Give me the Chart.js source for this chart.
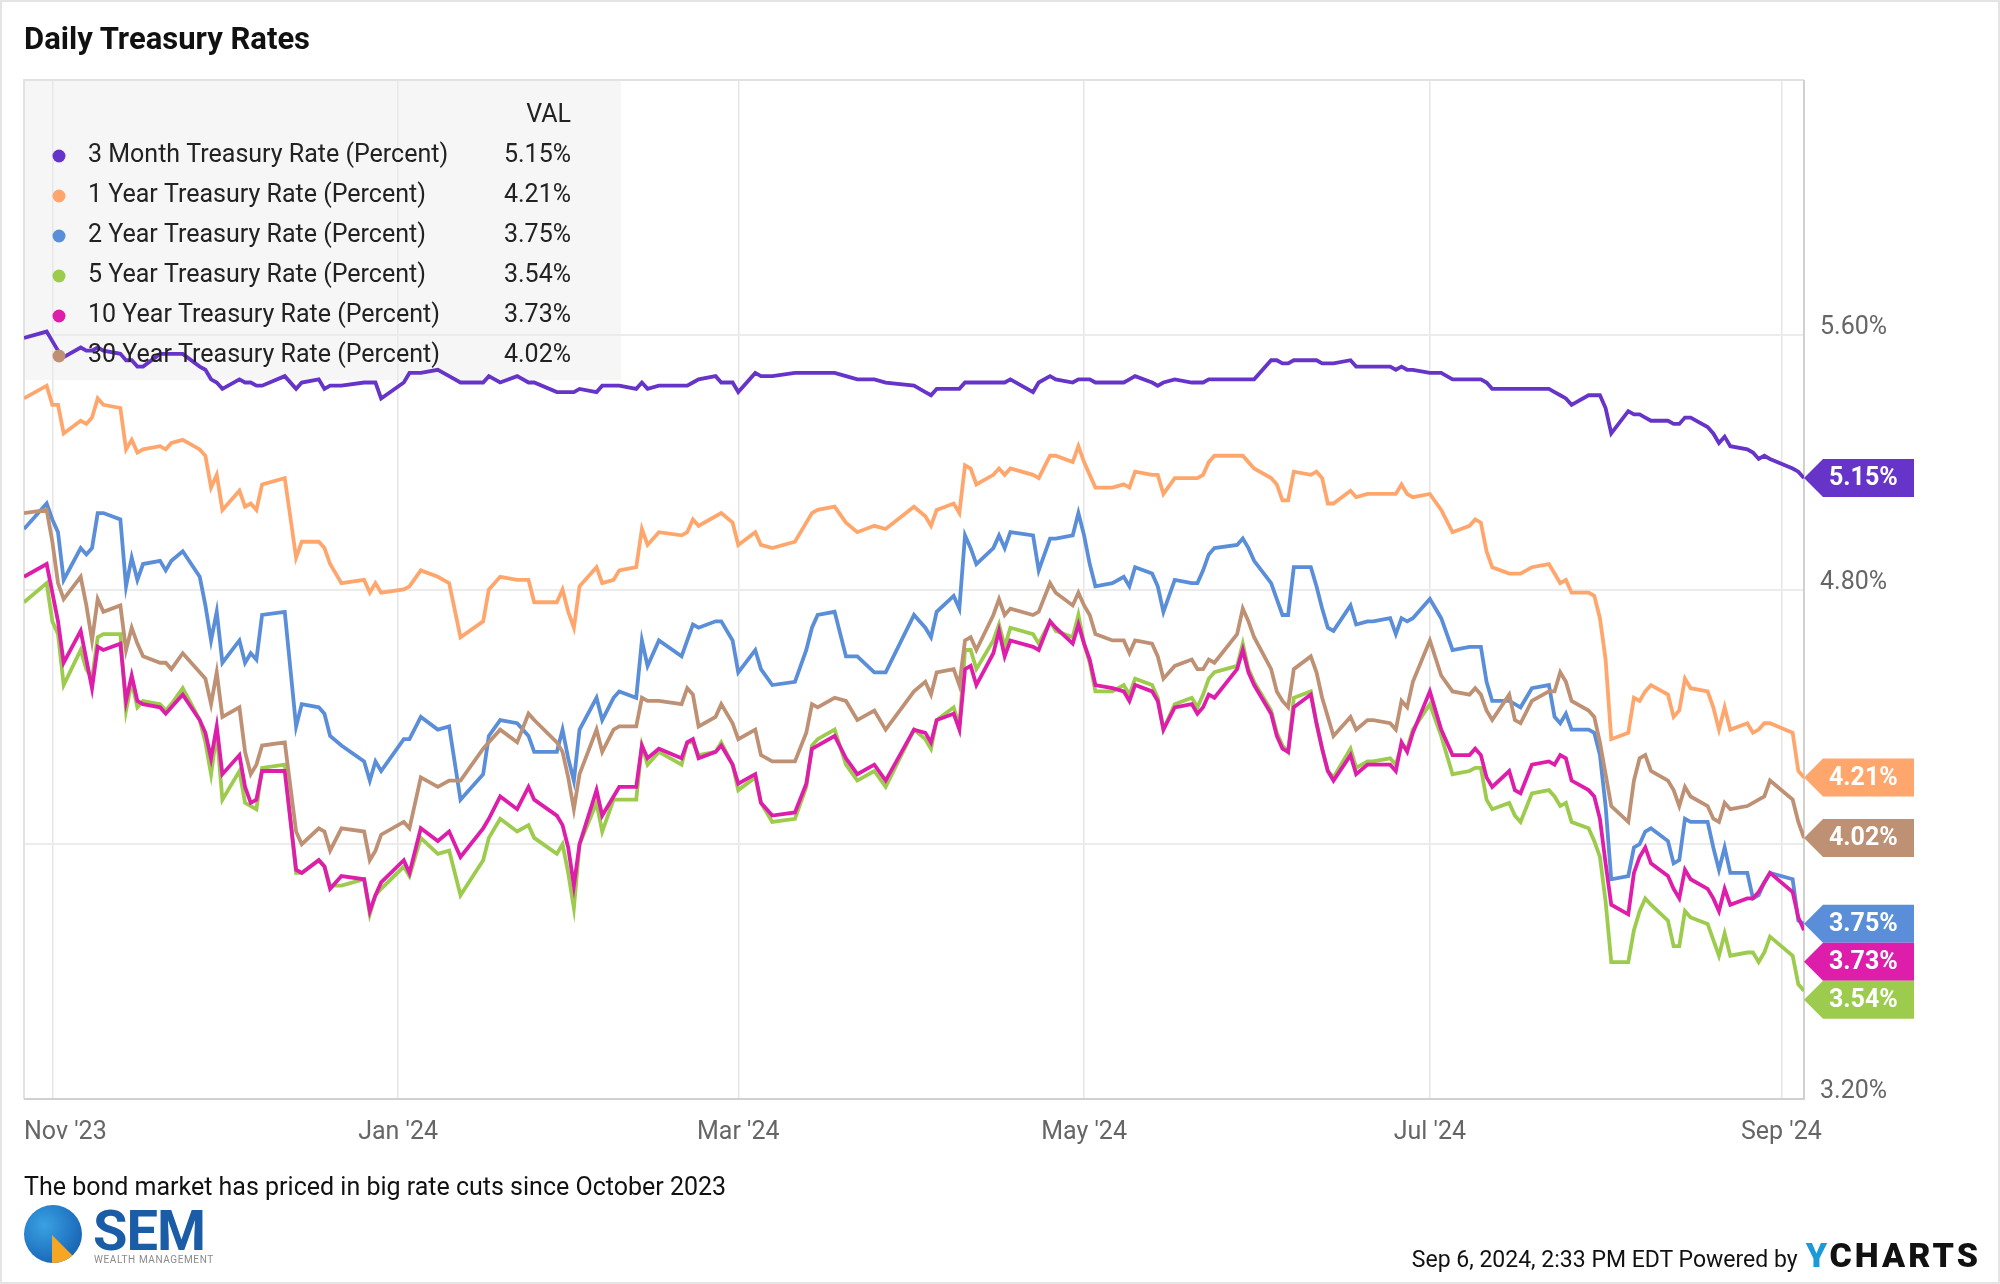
<!DOCTYPE html>
<html>
<head>
<meta charset="utf-8">
<title>Daily Treasury Rates</title>
<script src="https://cdn.jsdelivr.net/npm/chart.js@4.4.1/dist/chart.umd.min.js"></script>
<style>
  html, body { margin: 0; padding: 0; background: #fff; }
  body { width: 2000px; height: 1284px; position: relative; overflow: hidden; font-family: Roboto, 'Noto Sans', sans-serif; color: #111; }
  #frame { position: absolute; left: 0; top: 0; width: 1996px; height: 1280px; border: 2px solid #e4e4e4; pointer-events: none; }
  #chart { position: absolute; left: 0; top: 0; }
  #title { position: absolute; left: 24px; top: 23px; font-size: 31px; line-height: 32px; font-weight: 700; color: #111; }
  #caption { position: absolute; left: 24px; top: 1174px; font-size: 25px; line-height: 25px; color: #111; }
  #stamp { position: absolute; right: 19px; top: 1240px; display: flex; align-items: baseline; font-size: 23px; line-height: 30px; color: #111; }
  #stamp .yc { font-size: 34px; font-weight: 900; letter-spacing: 3px; margin-left: 8px; color: #111; }
  #stamp .yc b { color: #1b9ad8; font-weight: 900; }
  #sem { position: absolute; left: 24px; top: 1203px; width: 200px; height: 66px; }
  #sem .mark { position: absolute; left: 0; top: 2px; width: 58px; height: 58px; border-radius: 50%;
    background: radial-gradient(circle at 35% 35%, #3aa2e3 0%, #1f72c0 60%, #14539a 100%); overflow: hidden; }
  #sem .mark::after { content: ''; position: absolute; left: 28px; top: 30px; width: 30px; height: 30px;
    background: #f5a623; clip-path: polygon(0 0, 100% 100%, 0 100%); }
  #sem .word { position: absolute; left: 69px; top: 0; font-size: 56px; line-height: 56px; font-weight: 700; color: #1a5ca6; letter-spacing: -1px; }
  #sem .sub { position: absolute; left: 70px; top: 52px; font-size: 10px; line-height: 10px; color: #8a8a8a; letter-spacing: 0.6px; }
</style>
</head>
<body>
<canvas id="chart" width="2000" height="1284"></canvas>
<div id="title">Daily Treasury Rates</div>
<div id="caption">The bond market has priced in big rate cuts since October 2023</div>
<div id="sem"><div class="mark"></div><div class="word">SEM</div><div class="sub">WEALTH MANAGEMENT</div></div>
<div id="stamp"><span>Sep 6, 2024, 2:33 PM EDT Powered by</span><span class="yc"><b>Y</b>CHARTS</span></div>
<div id="frame"></div>
<script>
// trading days (not every day, but every visible turn)
const dates = [
  '2023-10-27','2023-10-31','2023-11-01','2023-11-02','2023-11-03','2023-11-06','2023-11-07','2023-11-08','2023-11-09','2023-11-10',
  '2023-11-13','2023-11-14','2023-11-15','2023-11-16','2023-11-17','2023-11-20','2023-11-21','2023-11-22','2023-11-24',
  '2023-11-27','2023-11-28','2023-11-29','2023-11-30','2023-12-01','2023-12-04','2023-12-05','2023-12-06','2023-12-07','2023-12-08',
  '2023-12-12','2023-12-14','2023-12-15','2023-12-18','2023-12-19','2023-12-20','2023-12-22',
  '2023-12-26','2023-12-27','2023-12-28','2023-12-29',
  '2024-01-02','2024-01-03','2024-01-05','2024-01-08','2024-01-10','2024-01-12',
  '2024-01-16','2024-01-17','2024-01-19','2024-01-22','2024-01-24','2024-01-25','2024-01-29','2024-01-30','2024-01-31','2024-02-01',
  '2024-02-02','2024-02-05','2024-02-06','2024-02-08','2024-02-09','2024-02-12','2024-02-13','2024-02-14','2024-02-16',
  '2024-02-20','2024-02-21','2024-02-22','2024-02-23','2024-02-26','2024-02-27','2024-02-29','2024-03-01',
  '2024-03-04','2024-03-05','2024-03-07','2024-03-11','2024-03-13','2024-03-14','2024-03-15','2024-03-18','2024-03-20','2024-03-22',
  '2024-03-25','2024-03-27','2024-04-01','2024-04-03',
  '2024-04-04','2024-04-05','2024-04-08','2024-04-09','2024-04-10','2024-04-11','2024-04-12','2024-04-15','2024-04-16','2024-04-17',
  '2024-04-18','2024-04-22','2024-04-23','2024-04-25','2024-04-26','2024-04-29','2024-04-30','2024-05-01','2024-05-02','2024-05-03',
  '2024-05-06','2024-05-08','2024-05-09','2024-05-10','2024-05-13','2024-05-14','2024-05-15','2024-05-17','2024-05-20','2024-05-21',
  '2024-05-22','2024-05-23','2024-05-24','2024-05-28','2024-05-29','2024-05-30','2024-05-31','2024-06-03','2024-06-04','2024-06-05',
  '2024-06-06','2024-06-07','2024-06-10','2024-06-11','2024-06-12','2024-06-13','2024-06-14','2024-06-17','2024-06-18','2024-06-20',
  '2024-06-21','2024-06-24','2024-06-25','2024-06-26','2024-06-27','2024-06-28','2024-07-01','2024-07-03','2024-07-05','2024-07-08',
  '2024-07-09','2024-07-10','2024-07-11','2024-07-12','2024-07-15','2024-07-16','2024-07-17','2024-07-19','2024-07-22','2024-07-23',
  '2024-07-24','2024-07-25','2024-07-26','2024-07-29','2024-07-30','2024-07-31','2024-08-01','2024-08-02','2024-08-05','2024-08-06',
  '2024-08-07','2024-08-08','2024-08-09','2024-08-12','2024-08-13','2024-08-14','2024-08-15','2024-08-16','2024-08-19','2024-08-20',
  '2024-08-21','2024-08-22','2024-08-23','2024-08-26','2024-08-27','2024-08-28','2024-08-29','2024-08-30','2024-09-03','2024-09-04',
  '2024-09-05'
];

const rate3m = [
  5.59,5.61,5.58,5.55,5.53,5.56,5.55,5.55,5.56,5.55, 5.54,5.52,5.52,5.50,5.50,5.54,5.54,5.54,5.54,
  5.50,5.49,5.46,5.45,5.43,5.46,5.45,5.45,5.44,5.44, 5.47,5.43,5.45,5.46,5.43,5.44,5.44, 5.45,5.45,5.45,5.40,
  5.45,5.48,5.48,5.49,5.47,5.45,
  5.45,5.47,5.45,5.47,5.45,5.45,5.42,5.42,5.42,5.42, 5.43,5.42,5.44,5.44,5.44,5.43,5.45,5.43,5.44,
  5.44,5.44,5.45,5.46,5.47,5.45,5.45,5.42, 5.48,5.47,5.47,5.48,5.48,5.48,5.48,5.48,5.47,5.46, 5.46,5.45,5.44,5.42,
  5.41,5.43,5.43,5.43,5.45,5.45,5.45,5.45,5.45,5.45, 5.46,5.42,5.45,5.47,5.46,5.45,5.46,5.46,5.46,5.45,
  5.45,5.45,5.46,5.47,5.45,5.44,5.45,5.46,5.45,5.45, 5.45,5.46,5.46,5.46,5.46,5.46,5.46,5.52,5.52,5.51,
  5.51,5.52,5.52,5.52,5.51,5.51,5.51,5.52,5.50,5.50,
  5.50,5.50,5.49,5.50,5.49,5.49,5.48,5.48,5.46,5.46, 5.46,5.46,5.45,5.43,5.43,5.43,5.43,5.43,5.43,5.42,
  5.41,5.40,5.38,5.41,5.41,5.41,5.37,5.29,5.36,5.35, 5.35,5.34,5.33,5.33,5.32,5.32,5.34,5.34,5.31,5.29,
  5.26,5.28,5.25,5.24,5.23,5.21,5.22,5.21,5.18,5.17, 5.15
];
const rate1y = [
  5.40,5.44,5.38,5.38,5.29,5.33,5.32,5.34,5.40,5.38, 5.37,5.24,5.27,5.23,5.24,5.25,5.24,5.26,5.27,
  5.24,5.22,5.12,5.16,5.05,5.11,5.06,5.07,5.05,5.13, 5.15,4.90,4.95,4.95,4.93,4.88,4.82, 4.83,4.79,4.82,4.79,
  4.80,4.81,4.86,4.84,4.82,4.65,
  4.70,4.80,4.84,4.83,4.83,4.76,4.76,4.80,4.73,4.68, 4.81,4.87,4.82,4.83,4.86,4.87,4.99,4.94,4.98,
  4.97,4.98,5.02,5.00,5.03,5.04,5.01,4.94, 4.98,4.94,4.93,4.95,5.01,5.04,5.05,5.06,5.01,4.98, 5.00,4.99,5.06,5.03,
  5.00,5.05,5.07,5.04,5.19,5.18,5.13,5.16,5.18,5.16, 5.18,5.16,5.15,5.22,5.22,5.20,5.25,5.20,5.16,5.12,
  5.12,5.13,5.12,5.17,5.16,5.16,5.10,5.15,5.15,5.15, 5.16,5.20,5.22,5.22,5.22,5.20,5.18,5.15,5.13,5.08,
  5.08,5.17,5.16,5.17,5.15,5.07,5.07,5.11,5.09,5.10,
  5.10,5.10,5.10,5.13,5.10,5.09,5.10,5.05,4.98,5.00, 5.02,5.01,4.92,4.87,4.85,4.85,4.85,4.87,4.88,4.85,
  4.82,4.83,4.79,4.79,4.78,4.71,4.58,4.33,4.35,4.46, 4.45,4.48,4.50,4.47,4.40,4.42,4.52,4.49,4.48,4.43,
  4.36,4.43,4.36,4.38,4.35,4.36,4.38,4.38,4.35,4.23, 4.21
];
const rate2y = [
  4.99,5.07,5.02,4.98,4.83,4.93,4.91,4.93,5.04,5.04, 5.02,4.81,4.90,4.83,4.88,4.89,4.86,4.89,4.92,
  4.84,4.75,4.64,4.73,4.57,4.64,4.57,4.60,4.58,4.72, 4.73,4.37,4.44,4.43,4.41,4.34,4.31, 4.26,4.20,4.26,4.23,
  4.33,4.33,4.40,4.36,4.37,4.14,
  4.22,4.34,4.39,4.38,4.34,4.29,4.29,4.36,4.27,4.20, 4.36,4.46,4.39,4.46,4.48,4.46,4.64,4.56,4.64,
  4.59,4.64,4.69,4.68,4.70,4.70,4.64,4.54, 4.61,4.55,4.50,4.51,4.61,4.68,4.72,4.73,4.59,4.59, 4.54,4.54,4.72,4.68,
  4.65,4.73,4.78,4.74,4.97,4.93,4.88,4.93,4.97,4.93, 4.98,4.97,4.86,4.96,4.96,4.97,5.04,4.97,4.88,4.81,
  4.82,4.84,4.81,4.87,4.85,4.81,4.73,4.83,4.82,4.82, 4.86,4.91,4.93,4.94,4.96,4.93,4.89,4.82,4.77,4.72,
  4.72,4.87,4.87,4.81,4.74,4.68,4.67,4.75,4.69,4.70,
  4.70,4.71,4.66,4.71,4.70,4.71,4.77,4.71,4.61,4.62, 4.62,4.62,4.51,4.45,4.45,4.44,4.43,4.49,4.50,4.40,
  4.38,4.41,4.36,4.36,4.35,4.28,4.12,3.89,3.90,3.99, 4.00,4.04,4.05,4.01,3.94,3.95,4.08,4.07,4.07,3.99,
  3.92,3.99,3.91,3.91,3.83,3.84,3.88,3.91,3.89,3.76, 3.75
];
const rate5y = [
  4.76,4.82,4.70,4.66,4.50,4.61,4.55,4.52,4.65,4.66, 4.66,4.42,4.51,4.43,4.45,4.44,4.42,4.44,4.49,
  4.39,4.32,4.22,4.35,4.14,4.23,4.13,4.12,4.11,4.24, 4.25,3.91,3.91,3.95,3.93,3.87,3.87, 3.89,3.78,3.84,3.86,
  3.93,3.90,4.02,3.97,3.98,3.84,
  3.95,4.02,4.08,4.04,4.06,4.02,3.97,4.00,3.91,3.80, 4.00,4.13,4.04,4.14,4.14,4.14,4.31,4.25,4.29,
  4.25,4.32,4.32,4.28,4.29,4.32,4.25,4.17, 4.21,4.13,4.07,4.08,4.18,4.31,4.33,4.36,4.25,4.20, 4.23,4.18,4.36,4.33,
  4.30,4.39,4.43,4.37,4.61,4.61,4.55,4.64,4.69,4.62, 4.68,4.66,4.63,4.70,4.67,4.65,4.72,4.63,4.57,4.48,
  4.48,4.50,4.47,4.52,4.50,4.46,4.36,4.44,4.46,4.43, 4.47,4.52,4.54,4.56,4.63,4.55,4.51,4.42,4.35,4.31,
  4.29,4.46,4.48,4.38,4.30,4.23,4.21,4.30,4.24,4.26,
  4.26,4.27,4.25,4.31,4.30,4.36,4.44,4.34,4.22,4.23, 4.24,4.24,4.14,4.11,4.13,4.09,4.07,4.16,4.17,4.15,
  4.12,4.13,4.07,4.05,4.01,3.96,3.82,3.63,3.63,3.73, 3.79,3.83,3.81,3.76,3.68,3.68,3.79,3.77,3.75,3.70,
  3.65,3.72,3.65,3.66,3.66,3.63,3.66,3.71,3.65,3.56, 3.54
];
const rate10y = [
  4.84,4.88,4.79,4.70,4.57,4.67,4.58,4.49,4.62,4.61, 4.63,4.45,4.53,4.45,4.44,4.43,4.41,4.43,4.47,
  4.39,4.35,4.27,4.37,4.22,4.28,4.18,4.13,4.14,4.23, 4.23,3.92,3.91,3.95,3.93,3.86,3.90, 3.89,3.79,3.84,3.88,
  3.95,3.91,4.05,4.01,4.04,3.96,
  4.05,4.08,4.15,4.11,4.18,4.14,4.09,4.06,3.99,3.87, 4.00,4.17,4.09,4.15,4.18,4.18,4.31,4.27,4.30,
  4.27,4.32,4.33,4.27,4.29,4.31,4.25,4.19, 4.22,4.13,4.09,4.10,4.19,4.30,4.31,4.34,4.27,4.22, 4.25,4.20,4.36,4.35,
  4.32,4.39,4.41,4.36,4.55,4.56,4.50,4.60,4.67,4.59, 4.64,4.62,4.61,4.70,4.68,4.63,4.69,4.63,4.58,4.50,
  4.49,4.48,4.45,4.50,4.48,4.45,4.36,4.43,4.44,4.41, 4.43,4.47,4.46,4.55,4.61,4.54,4.50,4.41,4.34,4.30,
  4.29,4.43,4.47,4.38,4.30,4.23,4.20,4.28,4.22,4.25,
  4.25,4.25,4.23,4.32,4.29,4.35,4.48,4.36,4.28,4.28, 4.30,4.28,4.21,4.18,4.23,4.17,4.16,4.25,4.26,4.25,
  4.28,4.27,4.20,4.17,4.15,4.08,3.94,3.81,3.78,3.91, 3.96,3.99,3.94,3.90,3.86,3.83,3.92,3.89,3.86,3.83,
  3.79,3.86,3.81,3.83,3.83,3.85,3.88,3.91,3.85,3.77, 3.73
];
const rate30y = [
  5.04,5.05,4.95,4.82,4.77,4.84,4.75,4.64,4.77,4.73, 4.75,4.61,4.68,4.63,4.59,4.57,4.57,4.55,4.60,
  4.54,4.52,4.44,4.54,4.40,4.43,4.29,4.22,4.25,4.31, 4.32,4.04,4.00,4.05,4.04,3.98,4.05, 4.04,3.95,3.98,4.03,
  4.07,4.05,4.21,4.18,4.20,4.20,
  4.30,4.32,4.36,4.32,4.41,4.39,4.32,4.29,4.21,4.11, 4.22,4.36,4.29,4.36,4.37,4.37,4.46,4.45,4.45,
  4.44,4.49,4.47,4.37,4.40,4.44,4.38,4.33, 4.36,4.28,4.26,4.26,4.35,4.44,4.43,4.46,4.45,4.39, 4.42,4.36,4.48,4.51,
  4.47,4.54,4.55,4.50,4.64,4.65,4.61,4.72,4.77,4.72, 4.74,4.72,4.73,4.82,4.79,4.75,4.79,4.75,4.72,4.66,
  4.64,4.64,4.60,4.64,4.63,4.59,4.52,4.56,4.58,4.55, 4.55,4.58,4.57,4.66,4.74,4.70,4.65,4.55,4.48,4.45,
  4.43,4.55,4.59,4.54,4.46,4.40,4.34,4.40,4.36,4.39,
  4.39,4.38,4.36,4.45,4.43,4.51,4.64,4.53,4.48,4.47, 4.49,4.47,4.42,4.39,4.47,4.39,4.38,4.45,4.48,4.48,
  4.54,4.51,4.45,4.42,4.40,4.32,4.22,4.12,4.07,4.20, 4.27,4.28,4.23,4.20,4.17,4.12,4.18,4.15,4.12,4.08,
  4.07,4.13,4.11,4.12,4.13,4.14,4.15,4.20,4.14,4.07, 4.02
];

const seriesNames = [
  '3 Month Treasury Rate (Percent)',
  '1 Year Treasury Rate (Percent)',
  '2 Year Treasury Rate (Percent)',
  '5 Year Treasury Rate (Percent)',
  '10 Year Treasury Rate (Percent)',
  '30 Year Treasury Rate (Percent)'
];
const seriesValues = [rate3m, rate1y, rate2y, rate5y, rate10y, rate30y];
const seriesColors = ['#6634C8', '#FFA66D', '#5A8ED9', '#9CCB4D', '#DE1EAA', '#BF9174'];

const monthTicks = ['2023-11-01', '2024-01-01', '2024-03-01', '2024-05-01', '2024-07-01', '2024-09-01'];
const monthLabels = ["Nov '23", "Jan '24", "Mar '24", "May '24", "Jul '24", "Sep '24"];
const yTicks = [3.2, 4.0, 4.8, 5.6];

// days since 1 Nov 2023, used as the x value on a linear axis
const DAY0 = Date.parse('2023-11-01');
function dayNum(s) {
  return (Date.parse(s) - DAY0) / 86400000;
}
const pct = v => v.toFixed(2) + '%';
const FONT = 'Roboto, "Noto Sans", sans-serif';

// plot frame, legend box background
const framePlugin = {
  id: 'frame',
  beforeDatasetsDraw(chart) {
    const { ctx, chartArea: a } = chart;
    ctx.save();
    ctx.fillStyle = 'rgba(236,236,236,0.45)';
    ctx.fillRect(a.left, a.top, 597, 300);
    ctx.lineWidth = 2;
    ctx.strokeStyle = '#e2e2e2';
    ctx.beginPath();
    ctx.moveTo(a.left, a.bottom);
    ctx.lineTo(a.left, a.top);
    ctx.lineTo(a.right, a.top);
    ctx.stroke();
    ctx.strokeStyle = '#d0d0d0';
    ctx.beginPath();
    ctx.moveTo(a.right, a.top);
    ctx.lineTo(a.right, a.bottom);
    ctx.lineTo(a.left, a.bottom);
    ctx.stroke();
    ctx.restore();
  }
};

// legend rows with the latest value of every series
const legendPlugin = {
  id: 'valLegend',
  afterDatasetsDraw(chart) {
    const { ctx, chartArea: a } = chart;
    const valX = a.left + 547;
    ctx.save();
    ctx.font = '25px ' + FONT;
    ctx.textBaseline = 'middle';
    ctx.fillStyle = '#222';
    ctx.textAlign = 'right';
    ctx.fillText('VAL', valX, a.top + 36);
    seriesNames.forEach((name, i) => {
      const y = a.top + 76 + i * 40;
      ctx.fillStyle = seriesColors[i];
      ctx.beginPath();
      ctx.arc(a.left + 35, y, 6.5, 0, Math.PI * 2);
      ctx.fill();
      ctx.fillStyle = '#222';
      ctx.textAlign = 'left';
      ctx.fillText(name, a.left + 64, y);
      ctx.textAlign = 'right';
      const vals = seriesValues[i];
      ctx.fillText(pct(vals[vals.length - 1]), valX, y);
    });
    ctx.restore();
  }
};

// month labels, the first one kept inside the plot
const xLabelPlugin = {
  id: 'xLabels',
  afterDraw(chart) {
    const { ctx, chartArea: a, scales: { x } } = chart;
    ctx.save();
    ctx.font = '25px ' + FONT;
    ctx.fillStyle = '#666';
    ctx.textBaseline = 'middle';
    ctx.textAlign = 'left';
    monthTicks.forEach((d, i) => {
      const px = x.getPixelForValue(dayNum(d));
      const w = ctx.measureText(monthLabels[i]).width;
      ctx.fillText(monthLabels[i], Math.max(a.left, px - w / 2), a.bottom + 34);
    });
    ctx.restore();
  }
};

// value flags on the right axis, pushed down when they collide
const flagPlugin = {
  id: 'flags',
  afterDraw(chart) {
    const { ctx, chartArea: a, scales: { y } } = chart;
    const H = 38;
    const flags = seriesValues.map((vals, i) => {
      const v = vals[vals.length - 1];
      return { v, color: seriesColors[i], py: y.getPixelForValue(v) };
    }).sort((p, q) => p.py - q.py);
    let lastBottom = -Infinity;
    ctx.save();
    ctx.font = 'bold 25px ' + FONT;
    ctx.textBaseline = 'middle';
    ctx.textAlign = 'left';
    flags.forEach(f => {
      const cy = Math.max(f.py, lastBottom + H / 2);
      lastBottom = cy + H / 2;
      const x0 = a.right, x1 = a.right + 19, x2 = a.right + 110;
      ctx.fillStyle = f.color;
      ctx.beginPath();
      ctx.moveTo(x0, cy);
      ctx.lineTo(x1, cy - H / 2);
      ctx.lineTo(x2, cy - H / 2);
      ctx.lineTo(x2, cy + H / 2);
      ctx.lineTo(x1, cy + H / 2);
      ctx.closePath();
      ctx.fill();
      ctx.fillStyle = '#fff';
      ctx.fillText(pct(f.v), x1 + 6, cy + 1);
    });
    ctx.restore();
  }
};

const datasets = seriesValues.map((vals, i) => ({
  label: seriesNames[i],
  data: dates.map((d, j) => ({ x: dayNum(d), y: vals[j] })),
  borderColor: seriesColors[i],
  backgroundColor: seriesColors[i],
  borderWidth: 3.8,
  pointRadius: 0,
  tension: 0,
  order: seriesValues.length - i
}));

new Chart(document.getElementById('chart'), {
  type: 'line',
  data: { datasets },
  options: {
    responsive: false,
    animation: false,
    devicePixelRatio: 1,
    layout: { padding: { left: 24, top: 80, right: 0, bottom: 124 } },
    plugins: {
      legend: { display: false },
      tooltip: { enabled: false }
    },
    scales: {
      x: {
        type: 'linear',
        min: dayNum(dates[0]),
        max: dayNum(dates[dates.length - 1]),
        afterBuildTicks: s => { s.ticks = monthTicks.map(d => ({ value: dayNum(d) })); },
        afterFit: s => { s.height = 61; },
        grid: { color: '#e6e6e6', lineWidth: 1.5, drawTicks: false },
        border: { display: false },
        ticks: { display: false }
      },
      y: {
        position: 'right',
        min: 3.2,
        max: 6.4,
        afterBuildTicks: s => { s.ticks = yTicks.map(v => ({ value: v })); },
        afterFit: s => { s.width = 196; },
        grid: { color: '#ececec', lineWidth: 2, drawTicks: false },
        border: { display: false },
        ticks: {
          padding: 16,
          labelOffset: -7,
          color: '#666',
          font: { family: FONT, size: 25 },
          callback: v => pct(v)
        }
      }
    }
  },
  plugins: [framePlugin, legendPlugin, xLabelPlugin, flagPlugin]
});
</script>
</body>
</html>
